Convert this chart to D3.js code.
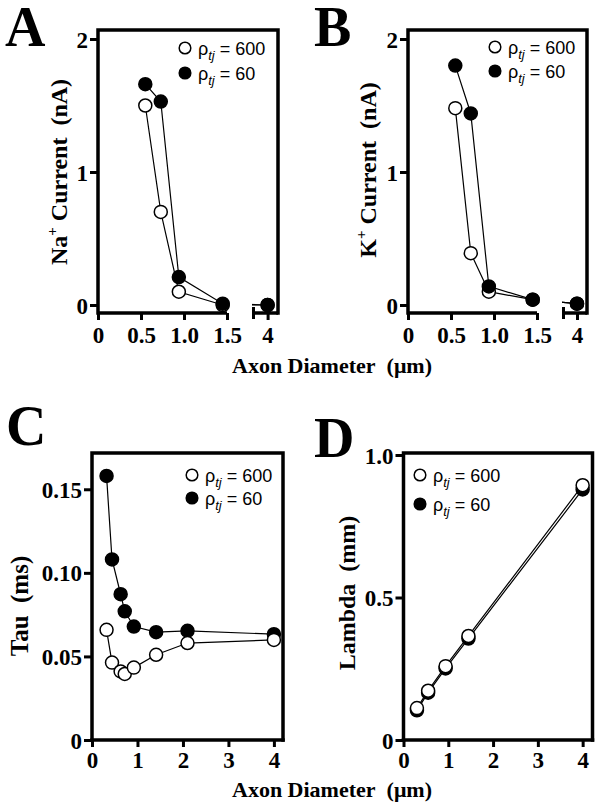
<!DOCTYPE html>
<html>
<head>
<meta charset="utf-8">
<script src="https://cdn.jsdelivr.net/npm/d3@7"></script>
<style>
  html, body { margin: 0; padding: 0; background: #fff; }
  svg { display: block; }
</style>
</head>
<body>
<svg id="chart" width="602" height="806"></svg>
<script>
// ---------------- DATA ----------------
const diamAB = [0.55, 0.73, 0.94, 1.45, 4];
const naOpen = [1.50, 0.70, 0.10, 0.00, 0.00];
const naFilled = [1.66, 1.53, 0.21, 0.01, 0.00];
const kOpen = [1.48, 0.39, 0.10, 0.04, 0.01];
const kFilled = [1.80, 1.44, 0.14, 0.04, 0.01];

const diamC = [0.32, 0.44, 0.63, 0.72, 0.92, 1.41, 2.1, 4];
const tauOpen = [0.0659, 0.0463, 0.0410, 0.0395, 0.0433, 0.0510, 0.0580, 0.0599];
const tauFilled = [0.1580, 0.1080, 0.0872, 0.0770, 0.0679, 0.0645, 0.0653, 0.0633];

const diamD = [0.30, 0.55, 0.94, 1.45, 4];
const lamOpen = [0.112, 0.173, 0.259, 0.365, 0.894];
const lamFilled = [0.104, 0.166, 0.251, 0.356, 0.879];

const ticksABx = [0, 0.5, 1.0, 1.5, 4];
const labelsABx = ["0", "0.5", "1.0", "1.5", "4"];
const ticksABy = [0, 1, 2];
const labelsABy = ["0", "1", "2"];
const ticksCDx = [0, 1, 2, 3, 4];
const labelsCDx = ["0", "1", "2", "3", "4"];
const ticksCy = [0, 0.05, 0.10, 0.15];
const labelsCy = ["0", "0.05", "0.10", "0.15"];
const ticksDy = [0, 0.5, 1.0];
const labelsDy = ["0", "0.5", "1.0"];

const seriesNames = ["600", "60"];

// ---------------- DRAWING ----------------
const svg = d3.select("#chart");
svg.append("rect").attr("width", 602).attr("height", 806).attr("fill", "#fff");

const SERIF = "'Liberation Serif', 'Times New Roman', serif";
const SANS = "'Liberation Sans', Arial, sans-serif";
const FRAME_W = 3.5;
const R = 6.5;

function panel(cfg) {
  const g = svg.append("g");
  const x = cfg.x, y = cfg.y;
  const L = cfg.left, Rt = cfg.right, T = cfg.top, B = cfg.bottom;

  // clip for data lines
  const clipId = "clip" + cfg.letter;
  const clip = svg.append("defs").append("clipPath").attr("id", clipId);
  cfg.clipRanges.forEach(r => {
    clip.append("rect").attr("x", r[0]).attr("y", 0).attr("width", r[1] - r[0]).attr("height", 806);
  });

  // x axis ticks
  const xa = d3.axisBottom(x).tickValues(cfg.xTicks)
    .tickFormat((d, i) => cfg.xLabels[i]).tickSize(7).tickSizeOuter(0);
  const gx = g.append("g").attr("transform", `translate(0,${B})`).call(xa)
    .attr("font-family", null).attr("font-size", null);
  gx.select(".domain").remove();
  gx.selectAll(".tick line").attr("stroke", "#000").attr("stroke-width", 3);
  gx.selectAll(".tick text").attr("y", cfg.xLabelOffset).attr("dy", 0)
    .style("font-family", SERIF).style("font-weight", "bold").style("font-size", "23px").attr("fill", "#000");

  // y axis ticks
  const ya = d3.axisLeft(y).tickValues(cfg.yTicks)
    .tickFormat((d, i) => cfg.yLabels[i]).tickSize(8).tickPadding(2).tickSizeOuter(0);
  const gy = g.append("g").attr("transform", `translate(${L},0)`).call(ya)
    .attr("font-family", null).attr("font-size", null);
  gy.select(".domain").remove();
  gy.selectAll(".tick line").attr("stroke", "#000").attr("stroke-width", 3);
  gy.selectAll(".tick text").attr("dy", "0.35em")
    .style("font-family", SERIF).style("font-weight", "bold").style("font-size", "23px").attr("fill", "#000");

  // frame
  const fr = g.append("g").attr("stroke", "#000").attr("stroke-width", FRAME_W).attr("fill", "none")
    .attr("stroke-linecap", "square");
  fr.append("path").attr("d", `M${L},${B}V${T}H${Rt}V${B}`);
  if (cfg.breakAt) {
    fr.append("path").attr("d", `M${L},${B}H${cfg.breakAt[0]}`).attr("stroke-linecap", "butt");
    fr.append("path").attr("d", `M${cfg.breakAt[1]},${B}H${Rt}`).attr("stroke-linecap", "butt");
    fr.append("path").attr("d", `M${cfg.breakAt[1] + 1.5},${B - 6}V${B + 6}`).attr("stroke-linecap", "butt").attr("stroke-width", 3);
  } else {
    fr.append("path").attr("d", `M${L},${B}H${Rt}`);
  }

  // series
  const line = d3.line().x(d => x(d[0])).y(d => y(d[1]));
  const series = cfg.series; // ordered back to front
  series.forEach(s => {
    const pts = cfg.xs.map((xv, i) => [xv, s.values[i]]);
    g.append("path").datum(pts).attr("d", line).attr("fill", "none")
      .attr("stroke", "#000").attr("stroke-width", 1.2).attr("clip-path", `url(#${clipId})`);
  });
  series.forEach(s => {
    const pts = cfg.xs.map((xv, i) => [xv, s.values[i]]);
    g.append("g").selectAll("circle").data(pts).join("circle")
      .attr("cx", d => x(d[0])).attr("cy", d => y(d[1])).attr("r", R)
      .attr("fill", s.filled ? "#000" : "#fff").attr("stroke", "#000").attr("stroke-width", 1.5);
  });

  // legend
  const lg = g.append("g");
  [{ filled: false, name: seriesNames[0] }, { filled: true, name: seriesNames[1] }].forEach((s, i) => {
    const cy = cfg.legend.ys[i];
    lg.append("circle").attr("cx", cfg.legend.x).attr("cy", cy).attr("r", 5.8)
      .attr("fill", s.filled ? "#000" : "#fff").attr("stroke", "#000").attr("stroke-width", 1.5);
    const t = lg.append("text").attr("x", cfg.legend.x + 13).attr("y", cy + 6.5)
      .attr("font-family", SANS).attr("font-size", 18).attr("fill", "#000");
    t.append("tspan").text("\u03C1");
    t.append("tspan").attr("font-style", "italic").attr("font-size", 13).attr("dy", 5).text("tj");
    t.append("tspan").attr("dy", -5).text("\u00A0=\u00A0" + s.name);
  });

  // y label
  const yl = g.append("text")
    .attr("transform", `translate(${cfg.yLabel.x},${cfg.yLabel.y}) rotate(-90)`)
    .attr("text-anchor", "middle").attr("font-family", SERIF).attr("font-weight", "bold")
    .attr("font-size", cfg.yLabel.size || 24).attr("fill", "#000");
  cfg.yLabel.parts.forEach(p => {
    const ts = yl.append("tspan").text(p.t);
    if (p.sup) ts.attr("font-size", 15).attr("dy", -10);
    if (p.after) ts.attr("dy", 10);
  });

  // panel letter
  g.append("text").attr("x", cfg.letterPos[0]).attr("y", cfg.letterPos[1])
    .attr("font-family", SERIF).attr("font-weight", "bold").attr("font-size", 56)
    .attr("fill", "#000").text(cfg.letter);
}

// Panel A
const xA = d3.scaleLinear().domain([0, 1.5, 3.82, 4.12]).range([98, 227, 252, 278]);
const yA = d3.scaleLinear().domain([0, 2]).range([305, 39]);
panel({
  letter: "A", letterPos: [5, 46],
  x: xA, y: yA, left: 98, right: 278, top: 30, bottom: 313,
  breakAt: [227, 252], clipRanges: [[80, 227], [252, 300]],
  xTicks: ticksABx, xLabels: labelsABx, xLabelOffset: 30,
  yTicks: ticksABy, yLabels: labelsABy,
  xs: diamAB,
  series: [{ values: naOpen, filled: false }, { values: naFilled, filled: true }],
  legend: { x: 185, ys: [48, 73] },
  yLabel: { x: 67, y: 172, parts: [{ t: "Na" }, { t: "+", sup: true }, { t: " Current\u00A0\u00A0(nA)", after: true }] }
});

// Panel B
const xB = d3.scaleLinear().domain([0, 1.5, 3.82, 4.12]).range([408, 537, 562, 587]);
const yB = d3.scaleLinear().domain([0, 2]).range([305, 39]);
panel({
  letter: "B", letterPos: [314, 46],
  x: xB, y: yB, left: 408, right: 587, top: 30, bottom: 313,
  breakAt: [537, 562], clipRanges: [[390, 537], [562, 602]],
  xTicks: ticksABx, xLabels: labelsABx, xLabelOffset: 30,
  yTicks: ticksABy, yLabels: labelsABy,
  xs: diamAB,
  series: [{ values: kOpen, filled: false }, { values: kFilled, filled: true }],
  legend: { x: 495, ys: [47, 71] },
  yLabel: { x: 376, y: 170, parts: [{ t: "K" }, { t: "+", sup: true }, { t: " Current\u00A0\u00A0(nA)", after: true }] }
});

// Panel C
const xC = d3.scaleLinear().domain([0, 4.2]).range([92, 283]);
const yC = d3.scaleLinear().domain([0, 0.1717]).range([740, 453]);
panel({
  letter: "C", letterPos: [6, 445],
  x: xC, y: yC, left: 92, right: 283, top: 453, bottom: 740,
  breakAt: null, clipRanges: [[0, 602]],
  xTicks: ticksCDx, xLabels: labelsCDx, xLabelOffset: 28,
  yTicks: ticksCy, yLabels: labelsCy,
  xs: diamC,
  series: [{ values: tauFilled, filled: true }, { values: tauOpen, filled: false }],
  legend: { x: 192, ys: [475, 498] },
  yLabel: { x: 28, y: 606, size: 25, parts: [{ t: "Tau\u00A0\u00A0(ms)" }] }
});

// Panel D
const xD = d3.scaleLinear().domain([0, 4.22]).range([403.5, 592.5]);
const yD = d3.scaleLinear().domain([0, 1.0]).range([740, 455]);
panel({
  letter: "D", letterPos: [314, 457],
  x: xD, y: yD, left: 403.5, right: 592.5, top: 453, bottom: 740,
  breakAt: null, clipRanges: [[0, 602]],
  xTicks: ticksCDx, xLabels: labelsCDx, xLabelOffset: 28,
  yTicks: ticksDy, yLabels: labelsDy,
  xs: diamD,
  series: [{ values: lamFilled, filled: true }, { values: lamOpen, filled: false }],
  legend: { x: 420, ys: [475, 504] },
  yLabel: { x: 355, y: 593, parts: [{ t: "Lambda\u00A0\u00A0(mm)" }] }
});

// shared x titles
[373, 797].forEach(yy => {
  svg.append("text").attr("x", 232).attr("y", yy)
    .attr("font-family", SERIF).attr("font-weight", "bold").attr("font-size", 22).attr("fill", "#000")
    .text("Axon Diameter\u00A0\u00A0(\u03BCm)");
});
</script>
</body>
</html>
